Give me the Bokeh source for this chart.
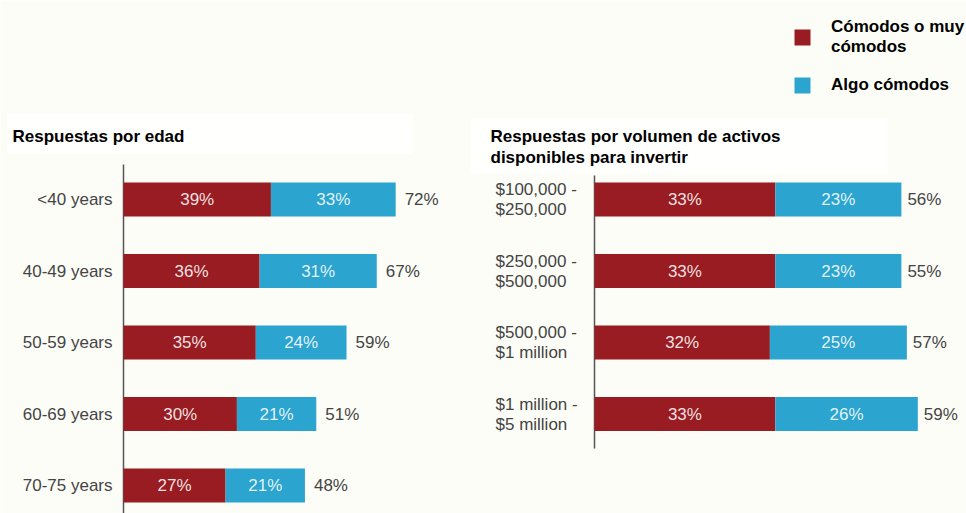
from bokeh.plotting import figure
from bokeh.models import (ColumnDataSource, Range1d, Label, Legend, LegendItem,
                          BoxAnnotation)
from bokeh.embed import file_html
from bokeh.resources import INLINE
from bokeh.core.properties import value

# ---- data ----
age_groups = ["<40 years", "40-49 years", "50-59 years", "60-69 years", "70-75 years"]
age_comfortable = [39, 36, 35, 30, 27]
age_somewhat = [33, 31, 24, 21, 21]
age_total = [72, 67, 59, 51, 48]

asset_groups = ["$100,000 -\n$250,000", "$250,000 -\n$500,000",
                "$500,000 -\n$1 million", "$1 million -\n$5 million"]
asset_comfortable = [33, 33, 32, 33]
asset_somewhat = [23, 23, 25, 26]
asset_total = [56, 55, 57, 59]

series_names = ["Cómodos o muy\ncómodos", "Algo cómodos"]
titles = ["Respuestas por edad", "Respuestas por volumen de activos\ndisponibles para invertir"]

# ---- style / layout ----
RED = "#981c21"
BLUE = "#2ba4d0"
BG = "#fdfdf7"
FONT = "Liberation Sans"
FS = "17px"
W, H = 966, 513
ROW_PX = 71.5          # pixels between bar rows
FIRST_ROW = 199        # pixel centre of first row
LEFT_ZERO, LEFT_PX = 123, 3.78     # left panel: 0% position, px per %
RIGHT_ZERO, RIGHT_PX = 594, 5.48   # right panel

p = figure(width=W, height=H, output_backend="svg", toolbar_location=None,
           x_range=Range1d(-LEFT_ZERO / LEFT_PX, (W - LEFT_ZERO) / LEFT_PX),
           y_range=Range1d((H - FIRST_ROW) / ROW_PX, -FIRST_ROW / ROW_PX),
           x_axis_location=None, y_axis_location=None,
           min_border_left=0, min_border_right=0, min_border_top=0, min_border_bottom=0,
           background_fill_color=BG, border_fill_color=BG, outline_line_color=None)
p.grid.visible = False
p.extra_x_ranges = {"assets": Range1d(-RIGHT_ZERO / RIGHT_PX, (W - RIGHT_ZERO) / RIGHT_PX)}

# subtle white panels behind titles
for l, r, t, b in [(7, 412, 113, 153), (470, 887, 118, 173)]:
    p.add_layout(BoxAnnotation(left=l, right=r, top=H - t, bottom=H - b,
                               left_units="screen", right_units="screen",
                               top_units="screen", bottom_units="screen",
                               fill_color="#fffffe", fill_alpha=1, line_color=None, level="underlay"))


def panel(cats, comf, some, tot, xr, lbl_off, axis_top_px, axis_bottom_px, multiline):
    n = len(cats)
    ys = list(range(n))
    src = ColumnDataSource(dict(
        y=ys, comf=comf, end=[c + s for c, s in zip(comf, some)], tot=tot,
        cmid=[c / 2 for c in comf], smid=[c + s / 2 for c, s in zip(comf, some)],
        clbl=[f"{c}%" for c in comf], slbl=[f"{s}%" for s in some], tlbl=[f"{t}%" for t in tot],
        zero=[0] * n,
        line1=[c.split("\n")[0] for c in cats],
        line2=[c.split("\n")[-1] if "\n" in c else "" for c in cats]))
    # axis line
    p.segment(x0=0, x1=0, y0=(axis_top_px - FIRST_ROW) / ROW_PX,
              y1=(axis_bottom_px - FIRST_ROW) / ROW_PX,
              line_color="#555555", line_width=1.5, x_range_name=xr)
    r1 = p.hbar(y="y", left=0, right="comf", height=0.475, fill_color=RED, line_color=None,
                source=src, x_range_name=xr)
    r2 = p.hbar(y="y", left="comf", right="end", height=0.475, fill_color=BLUE, line_color=None,
                source=src, x_range_name=xr)
    common = dict(y="y", text_baseline="middle", text_font_size=FS, text_font=value(FONT),
                  source=src, x_range_name=xr)
    p.text(x="cmid", text="clbl", text_align="center", text_color="white", text_alpha=0.88, **common)
    p.text(x="smid", text="slbl", text_align="center", text_color="white", text_alpha=0.88, **common)
    p.text(x="end", text="tlbl", text_align="left", x_offset=lbl_off, text_color="#444444", **common)
    if multiline:
        p.text(x="zero", text="line1", text_align="left", x_offset=-99, y_offset=-10,
               text_color="#444444", **common)
        p.text(x="zero", text="line2", text_align="left", x_offset=-99, y_offset=10,
               text_color="#444444", **common)
    else:
        p.text(x="zero", text="line1", text_align="right", x_offset=-11,
               text_color="#444444", **common)
    return r1, r2


panel(age_groups, age_comfortable, age_somewhat, age_total, "default", 9, 164, H, False)
ra, rb = panel(asset_groups, asset_comfortable, asset_somewhat, asset_total, "assets", 6, 175, 448, True)

p.add_layout(Label(x=12, y=H - 126, x_units="screen", y_units="screen", text=titles[0],
                   text_baseline="top", text_font=FONT, text_font_style="bold",
                   text_font_size=FS, text_color="black"))
p.add_layout(Label(x=490, y=H - 126, x_units="screen", y_units="screen", text=titles[1],
                   text_baseline="top", text_font=FONT, text_font_style="bold",
                   text_font_size=FS, text_color="black", text_line_height=1.15))

legend = Legend(items=[LegendItem(label=series_names[0], renderers=[ra]),
                       LegendItem(label=series_names[1], renderers=[rb])],
                location=(792, H - 95), orientation="vertical",
                glyph_width=20, glyph_height=20, label_standoff=19, spacing=18,
                padding=0, margin=0, border_line_color=None, background_fill_alpha=0,
                label_text_font=FONT, label_text_font_style="bold", label_text_font_size=FS,
                label_text_line_height=1.1, label_text_color="black")
p.add_layout(legend)

open("out.html", "w").write(file_html(p, INLINE))
